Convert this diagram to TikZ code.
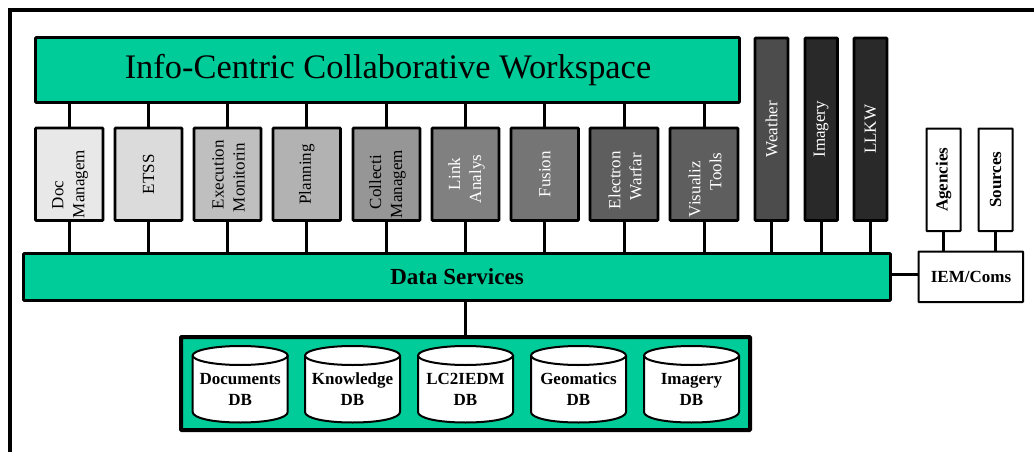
\documentclass[tikz,border=0pt]{standalone}
\usepackage{fontspec}
\setmainfont{Liberation Serif}
\definecolor{teal1}{HTML}{00CC99}
\tikzset{
  x=1pt,y=-1pt,
  every node/.style={inner sep=0pt,outer sep=0pt},
  blk/.style={draw=black,line width=2.7pt,rounded corners=0.8pt},
  thinblk/.style={draw=black,line width=2pt,fill=white,rounded corners=0.6pt},
  link/.style={line width=3pt,black},
  vlab/.style={rotate=90,font=\fontsize{17}{21}\selectfont,align=left,anchor=west,yshift=-1pt},
  vmid/.style={rotate=90,font=\fontsize{17}{21}\selectfont},
  bmid/.style={rotate=90,font=\fontsize{17}{21}\selectfont\bfseries},
  dblab/.style={font=\fontsize{17}{21}\selectfont\bfseries,align=center},
  dbcyl/.style={draw=black,line width=2pt,fill=white},
}
% name, lw, x0,y0,x1,y1 (outer extents), style
\newcommand{\bxat}[7]{%
  \pgfmathsetmacro{\bw}{#5-#3-#2}\pgfmathsetmacro{\bh}{#6-#4-#2}%
  \node[#7,minimum width=\bw pt,minimum height=\bh pt] (#1) at ({(#3+#5)/2},{(#4+#6)/2}) {};}
% name, centre x, text
\newcommand{\dbat}[3]{%
  \draw[dbcyl] (#2-47.5,355.5) -- (#2-47.5,412)
     .. controls (#2-47.5,418) and (#2-28,422.5) .. (#2,422.5)
     .. controls (#2+28,422.5) and (#2+47.5,418) .. (#2+47.5,412)
     -- (#2+47.5,355.5);
  \draw[dbcyl] (#2,355.5) ellipse [x radius=47.5,y radius=9.5];
  \node[dblab] (#1) at (#2,389) {#3};}
\begin{document}
\begin{tikzpicture}
\useasboundingbox (0,0) rectangle (1034,452);
\fill[white] (0,0) rectangle (1034,452);
\coordinate (fa) at (10,452);
\coordinate (fb) at (10,10);
\coordinate (fc) at (1034,10);
\draw[line width=4pt,miter limit=10] (fa) -- (fb) -- (fc);

\bxat{ws}{3}{34}{36}{741}{104}{blk,fill=teal1}
\node[font=\fontsize{34.4}{40}\selectfont] (wst) at (388,70.5) {Info-Centric Collaborative Workspace};

\bxat{a1}{3}{34}{126.5}{104.5}{222}{blk,fill=black!9}
\bxat{a2}{3}{113.5}{126.5}{183.5}{222}{blk,fill=black!14}
\bxat{a3}{3}{192.5}{126.5}{262.5}{222}{blk,fill=black!25}
\bxat{a4}{3}{271.5}{126.5}{342}{222}{blk,fill=black!30}
\bxat{a5}{3}{351.5}{126.5}{421.5}{222}{blk,fill=black!41}
\bxat{a6}{3}{430.5}{126.5}{500.5}{222}{blk,fill=black!50}
\bxat{a7}{3}{509.5}{126.5}{580}{222}{blk,fill=black!54}
\bxat{a8}{3}{588.5}{126.5}{659.5}{222}{blk,fill=black!63}
\bxat{a9}{3}{668.5}{126.5}{739.5}{222}{blk,fill=black!63}
\bxat{w1}{3}{753.5}{36.5}{789.5}{222}{blk,fill=black!70}
\bxat{w2}{3}{803.5}{36.5}{839}{222}{blk,fill=black!84}
\bxat{w3}{3}{852.5}{36.5}{888.5}{222}{blk,fill=black!84}
\bxat{s1}{2}{925.5}{127.5}{961.5}{232}{thinblk}
\bxat{s2}{2}{977.5}{127.5}{1013.5}{232}{thinblk}
\bxat{iem}{2}{917.5}{250.5}{1024}{303}{thinblk}
\bxat{ds}{3}{22}{252}{892}{302}{blk,fill=teal1}
\bxat{db}{4}{179}{335}{752}{432}{blk,line width=4pt,fill=teal1}

\node[vlab] (t1) at (a1.center |- 0,218) {\hspace*{9pt}Doc\\Managem};
\node[vmid] (t2) at (a2.center) {ETSS};
\node[vlab] (t3) at (a3.center |- 0,212) {\hspace*{3pt}Execution\\Monitorin};
\node[vmid] (t4) at (a4.center) {Planning};
\node[vlab] (t5) at (a5.center |- 0,218) {\hspace*{9pt}Collecti\\Managem};
\node[vlab,text=white] (t6) at (a6.center |- 0,203) {\hspace*{13pt}Link\\Analys};
\node[vmid,text=white] (t7) at (a7.center) {Fusion};
\node[vlab,text=white] (t8) at (a8.center |- 0,209) {Electron\\\hspace*{9pt}Warfar};
\node[vlab,text=white] (t9) at (a9.center |- 0,217) {Visualiz\\\hspace*{27pt}Tools};
\node[vmid,text=white] (tw1) at (w1.center) {Weather};
\node[vmid,text=white] (tw2) at (w2.center) {Imagery};
\node[vmid,text=white] (tw3) at (w3.center) {LLKW};
\node[bmid] (ts1) at (s1.center) {Agencies};
\node[bmid] (ts2) at (s2.center) {Sources};
\node[font=\fontsize{17}{21}\selectfont\bfseries] (tiem) at (971,277) {IEM/Coms};
\node[font=\fontsize{23}{26}\selectfont\bfseries] (tds) at (457,277) {Data Services};

\dbat{c1}{240.2}{Documents\\DB}
\dbat{c2}{352.5}{Knowledge\\DB}
\dbat{c3}{465.5}{LC2IEDM\\DB}
\dbat{c4}{578.5}{Geomatics\\DB}
\dbat{c5}{691.5}{Imagery\\DB}

\foreach \n in {a1,a2,a3,a4,a5,a6,a7,a8,a9}{
  \draw[link] (\n.north) -- (\n.north |- ws.south);
  \draw[link] (\n.south) -- (\n.south |- ds.north);
}
\foreach \n in {w1,w2,w3}{
  \draw[link] (\n.south) -- (\n.south |- ds.north);
}
\foreach \n in {s1,s2}{
  \draw[link] (\n.south) -- (\n.south |- iem.north);
}
\draw[link] ([yshift=3pt]ds.east) -- ([yshift=3pt]ds.east -| iem.west);
\draw[link] (db.north) -- (db.north |- ds.south);
\end{tikzpicture}
\end{document}
